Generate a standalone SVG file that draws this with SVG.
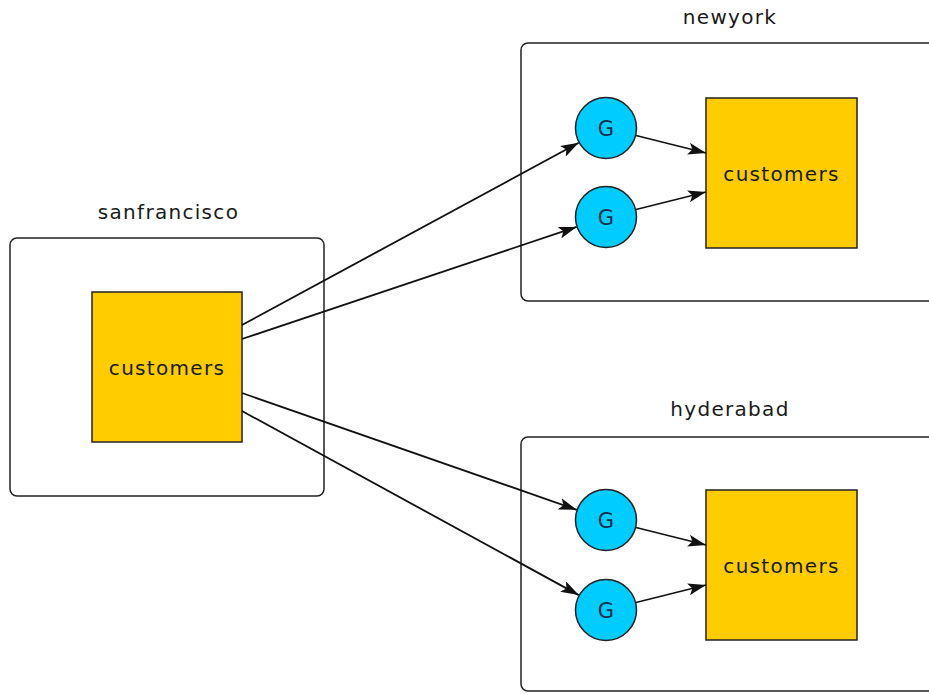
<svg xmlns="http://www.w3.org/2000/svg" width="929" height="694" viewBox="0 0 929 694">
<style>
.cluster{fill:#fff;stroke:#222;stroke-width:1.5}
.cust{fill:#ffcc00;stroke:#222;stroke-width:1.5}
.gw{fill:#00ccff;stroke:#222;stroke-width:1.5}
.lbl{font-family:"DejaVu Sans",sans-serif;font-size:20px;letter-spacing:1.3px;fill:#1a1a1a;text-anchor:middle}
.g{font-family:"DejaVu Sans",sans-serif;font-size:21px;fill:#14304a;text-anchor:middle}
.edge{stroke:#111;stroke-width:1.8;fill:none;marker-end:url(#arr)}
</style>
<defs>
<marker id="arr" viewBox="0 0 18 12" refX="18" refY="6" markerUnits="userSpaceOnUse" markerWidth="18" markerHeight="12" orient="auto">
<path d="M0,0 L18,6 L0,12 L4,6 z" fill="#111"/>
</marker>
</defs>
<rect width="929" height="694" fill="#fff"/>
<g id="sanfrancisco">
<rect class="cluster" x="10" y="238" width="314" height="258" rx="7"/>
<text class="lbl" x="168.5" y="219">sanfrancisco</text>
</g>
<g id="newyork">
<rect class="cluster" x="521" y="43" width="430" height="258" rx="7"/>
<text class="lbl" x="730" y="24">newyork</text>
</g>
<g id="hyderabad">
<rect class="cluster" x="521" y="437" width="430" height="254" rx="7"/>
<text class="lbl" x="730" y="416">hyderabad</text>
</g>
<g id="sf_customers">
<rect class="cust" x="92" y="292" width="150" height="150"/>
<text class="lbl" x="167" y="375">customers</text>
</g>
<g id="ny_customers">
<rect class="cust" x="706" y="98" width="151" height="150"/>
<text class="lbl" x="781.5" y="181">customers</text>
</g>
<g id="hy_customers">
<rect class="cust" x="706" y="490" width="151" height="150"/>
<text class="lbl" x="781.5" y="573">customers</text>
</g>
<g id="ny_g1">
<circle class="gw" cx="606" cy="128" r="30.5"/>
<text class="g" x="606" y="136">G</text>
</g>
<g id="ny_g2">
<circle class="gw" cx="606" cy="217" r="30.5"/>
<text class="g" x="606" y="225">G</text>
</g>
<g id="hy_g1">
<circle class="gw" cx="606" cy="520" r="30.5"/>
<text class="g" x="606" y="528">G</text>
</g>
<g id="hy_g2">
<circle class="gw" cx="606" cy="610" r="30.5"/>
<text class="g" x="606" y="618">G</text>
</g>
<g id="connectors">
<line class="edge" x1="242" y1="325" x2="578.7" y2="142.8"/>
<line class="edge" x1="242" y1="339" x2="576.6" y2="226.9"/>
<line class="edge" x1="242" y1="393" x2="576.7" y2="509.8"/>
<line class="edge" x1="242" y1="411" x2="578.8" y2="595.1"/>
<line class="edge" x1="636" y1="135.5" x2="706" y2="153"/>
<line class="edge" x1="636" y1="209.5" x2="706" y2="192"/>
<line class="edge" x1="636" y1="527.5" x2="706" y2="545"/>
<line class="edge" x1="636" y1="602.5" x2="706" y2="585"/>
</g>
</svg>
